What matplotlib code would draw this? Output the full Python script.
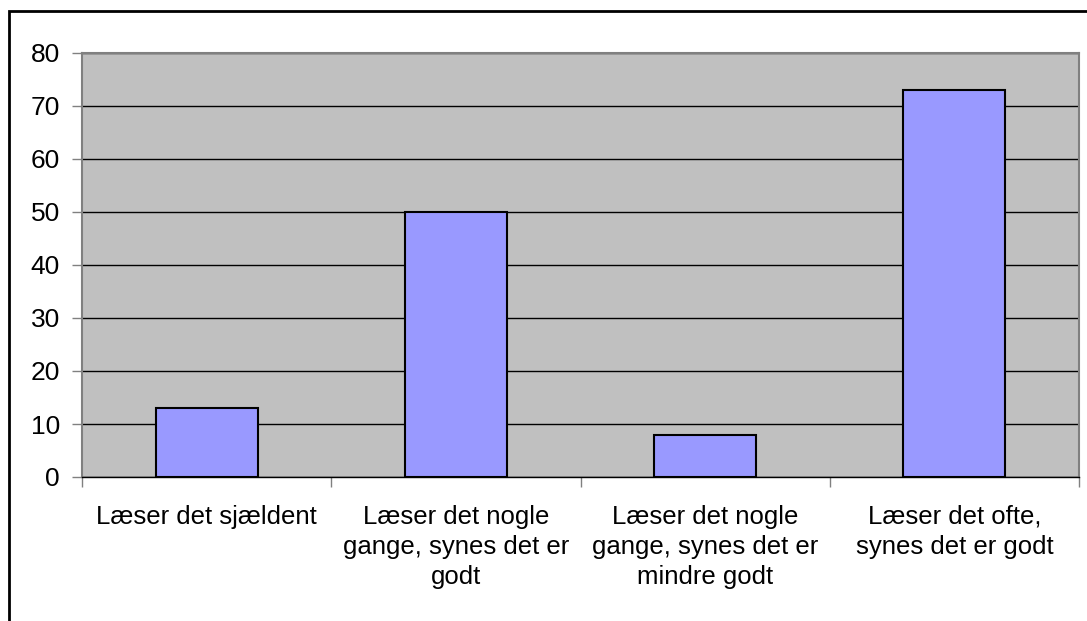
import matplotlib.pyplot as plt
import numpy as np
from matplotlib.patches import Rectangle

plt.rcParams['font.family'] = ['Liberation Sans', 'DejaVu Sans']

categories = [
    "Læser det sjældent",
    "Læser det nogle\ngange, synes det er\ngodt",
    "Læser det nogle\ngange, synes det er\nmindre godt",
    "Læser det ofte,\nsynes det er godt",
]
values = [13, 50, 8, 73]

fig = plt.figure(figsize=(10.87, 6.21), dpi=100)
ax = fig.add_axes([82 / 1087, 1 - 477 / 621, (1079 - 82) / 1087, (477 - 53) / 621])
ax.set_facecolor("#C0C0C0")

X = np.arange(len(values))
ax.bar(X, values, width=0.41, color="#9999FF", edgecolor="black", linewidth=1.5, zorder=3)

ax.set_xlim(-0.5, len(values) - 0.5)
ax.set_ylim(0, 80)
ax.set_yticks(np.arange(0, 81, 10))
ax.yaxis.grid(True, color="black", linewidth=1, zorder=1)
ax.set_axisbelow(True)

ax.set_xticks(X)
ax.set_xticklabels(categories, fontsize=18.5, linespacing=1.33, va="top")
ax.set_xticks(np.arange(-0.5, len(values), 1), minor=True)
ax.tick_params(axis="x", which="major", length=0, pad=20)
ax.tick_params(axis="x", which="minor", length=7, width=1, color="#808080")
ax.tick_params(axis="y", length=7, width=1, color="#808080", labelsize=19, pad=9)

for s in ["top", "right", "left"]:
    ax.spines[s].set_color("#808080")
    ax.spines[s].set_linewidth(1.5)
ax.spines["bottom"].set_color("black")
ax.spines["bottom"].set_linewidth(1)

fig.patches.append(Rectangle((9 / 1087, -0.05), 1.1, 1 - 11 / 621 + 0.05,
                             transform=fig.transFigure, fill=False,
                             edgecolor="black", linewidth=2))

fig.savefig("out.png", dpi=100)
